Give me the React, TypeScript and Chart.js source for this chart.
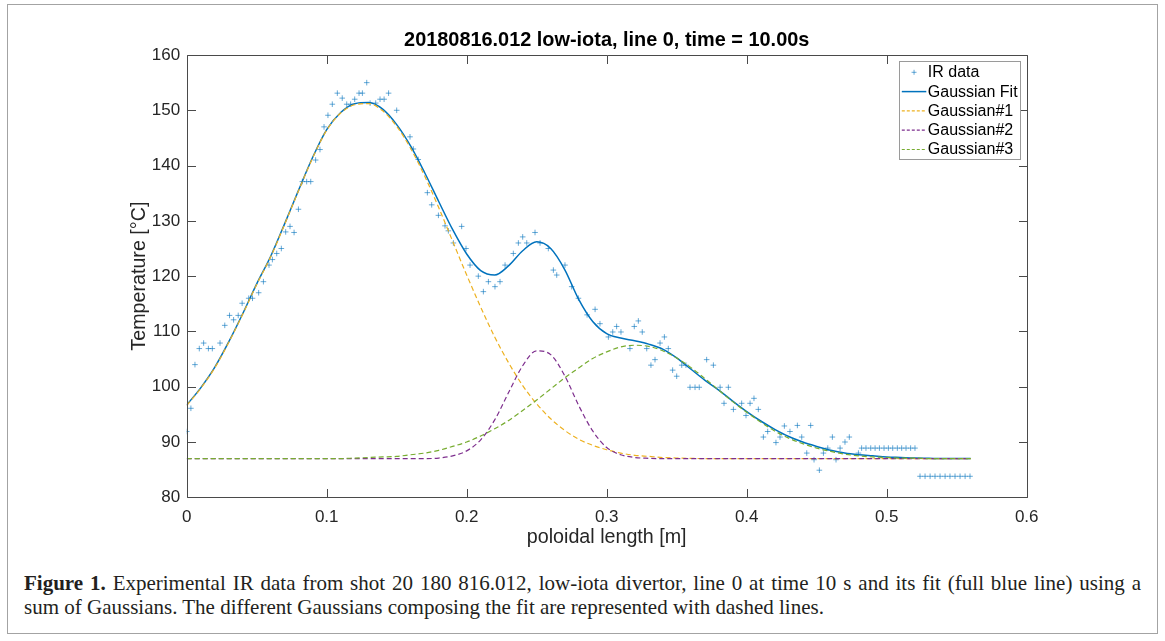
import React, { useEffect, useRef } from "react";
import { Chart, registerables } from "chart.js";

Chart.register(...registerables);

// ---------- texts ----------
const TITLE = "20180816.012 low-iota, line 0, time = 10.00s";
const X_LABEL = "poloidal length [m]";
const Y_LABEL = "Temperature [°C]";
const X_TICKS = [0, 0.1, 0.2, 0.3, 0.4, 0.5, 0.6];
const Y_TICKS = [80, 90, 100, 110, 120, 130, 140, 150, 160];
const SERIES_NAMES = ["IR data", "Gaussian Fit", "Gaussian#1", "Gaussian#2", "Gaussian#3"];

// ---------- IR measurements ----------
const IR_X = [
  0.0, 0.003, 0.0059, 0.009, 0.0121, 0.0155, 0.0183, 0.0238, 0.0272, 0.0306,
  0.0335, 0.0368, 0.0396, 0.0443, 0.047, 0.0514, 0.0548, 0.0588, 0.0612, 0.0643,
  0.0676, 0.0707, 0.0738, 0.0767, 0.0798, 0.0826, 0.0857, 0.0886, 0.0921, 0.0952,
  0.0981, 0.1009, 0.104, 0.1076, 0.1111, 0.1143, 0.1171, 0.12, 0.1231, 0.1255,
  0.1286, 0.131, 0.135, 0.1381, 0.141, 0.1442, 0.15, 0.1595, 0.1619, 0.1654,
  0.1719, 0.175, 0.1798, 0.1845, 0.1869, 0.1905, 0.1964, 0.1995, 0.2024, 0.2083,
  0.2119, 0.2155, 0.2202, 0.2238, 0.2274, 0.2333, 0.2369, 0.24, 0.2429, 0.2488,
  0.2524, 0.2583, 0.2619, 0.2643, 0.2702, 0.275, 0.2798, 0.286, 0.2917, 0.2952,
  0.3012, 0.3043, 0.3071, 0.3102, 0.3166, 0.3197, 0.3226, 0.3254, 0.3286, 0.3316,
  0.3345, 0.3381, 0.3412, 0.344, 0.3471, 0.35, 0.3536, 0.3566, 0.3595, 0.3631,
  0.3661, 0.3714, 0.3762, 0.381, 0.3838, 0.3869, 0.3905, 0.3964, 0.3995, 0.4024,
  0.4052, 0.4083, 0.4119, 0.415, 0.4209, 0.4238, 0.4269, 0.4309, 0.4362, 0.4393,
  0.4429, 0.4457, 0.4481, 0.4519, 0.4548, 0.4579, 0.4612, 0.4638, 0.4667, 0.4702,
  0.4733, 0.4798, 0.4821,
  0.4852, 0.4886, 0.4917, 0.4948, 0.4981, 0.5012, 0.5043, 0.5076, 0.5107, 0.5138, 0.5171, 0.5202,
  0.5238, 0.5274, 0.531, 0.5345, 0.5381, 0.5417, 0.5452, 0.5488, 0.5524, 0.556, 0.5595,
];
const IR_Y = [
  91.9, 96.1, 104.0, 106.9, 107.9, 106.9, 106.9, 107.9, 111.1, 112.9,
  112.1, 112.9, 115.1, 116.0, 116.0, 117.0, 119.0, 122.0, 123.0, 124.1,
  125.0, 128.0, 129.0, 127.9, 132.1, 137.1, 137.1, 137.1, 141.0, 142.9,
  147.0, 149.1, 151.1, 153.1, 152.2, 151.1, 151.1, 152.0, 153.1, 153.1,
  155.0, 151.3, 151.3, 152.0, 152.0, 153.1, 150.0, 145.2, 143.0, 141.1,
  135.1, 132.9, 131.0, 129.1, 128.2, 126.0, 129.0, 125.0, 122.0, 120.0,
  117.2, 119.0, 118.1, 119.0, 122.0, 124.1, 126.0, 127.1, 126.0, 127.9,
  126.0, 125.0, 121.1, 120.2, 122.0, 118.1, 116.0, 113.0, 114.0, 111.4,
  109.0, 109.9, 110.9, 109.9, 106.9, 110.9, 111.9, 109.9, 106.9, 103.9,
  104.9, 107.9, 109.0, 106.9, 103.0, 101.9, 103.9, 103.9, 99.9, 99.9,
  99.9, 104.9, 103.9, 99.9, 97.0, 99.9, 95.9, 97.0, 94.8, 97.0,
  97.9, 95.9, 90.9, 91.9, 89.9, 90.9, 92.9, 91.9, 93.0, 90.9,
  88.0, 93.0, 86.8, 84.9, 88.0, 88.9, 90.9, 86.8, 88.9, 90.0,
  90.9, 88.0, 88.9,
  88.9, 88.9, 88.9, 88.9, 88.9, 88.9, 88.9, 88.9, 88.9, 88.9, 88.9, 88.9,
  83.8, 83.8, 83.8, 83.8, 83.8, 83.8, 83.8, 83.8, 83.8, 83.8, 83.8,
];

// ---------- fitted curves (sampled positions) ----------
const CURVE_X = [
  0.0, 0.01, 0.02, 0.03, 0.04, 0.05, 0.06, 0.07, 0.08, 0.09,
  0.1, 0.11, 0.12, 0.13, 0.14, 0.15, 0.16, 0.17, 0.18, 0.19,
  0.2, 0.21, 0.22, 0.23, 0.24, 0.25, 0.26, 0.27, 0.28, 0.29,
  0.3, 0.31, 0.32, 0.33, 0.34, 0.35, 0.36, 0.37, 0.38, 0.39,
  0.4, 0.41, 0.42, 0.43, 0.44, 0.45, 0.46, 0.47, 0.48, 0.49,
  0.5, 0.51, 0.52, 0.53, 0.54, 0.55, 0.56,
];
const FIT_Y = [
  96.7, 99.8, 103.5, 108.1, 113.2, 118.6, 123.6, 129.5, 135.6, 141.5,
  146.5, 149.6, 151.2, 151.4, 150.2, 147.4, 143.5, 138.7, 133.5, 128.4,
  124.0, 121.0, 120.2, 121.9, 124.6, 126.2, 125.0, 121.2, 115.8, 111.8,
  109.6, 108.8, 108.3, 107.7, 106.8, 105.2, 103.2, 101.2, 99.4, 97.4,
  95.5, 93.8, 92.3, 91.0, 90.0, 89.2, 88.5, 88.0, 87.7, 87.5,
  87.3, 87.2, 87.1, 87.05, 87.0, 87.0, 87.0,
];
const G1_Y = [
  96.6, 99.7, 103.4, 108.0, 113.1, 118.5, 123.5, 129.4, 135.5, 141.4,
  146.4, 149.5, 151.0, 151.2, 149.9, 147.1, 143.1, 138.1, 132.4, 126.3,
  120.2, 114.4, 109.0, 104.3, 100.2, 96.9, 94.2, 92.1, 90.5, 89.4,
  88.6, 88.0, 87.6, 87.4, 87.2, 87.1, 87.05, 87.0, 87.0, 87.0,
  87.0, 87.0, 87.0, 87.0, 87.0, 87.0, 87.0, 87.0, 87.0, 87.0,
  87.0, 87.0, 87.0, 87.0, 87.0, 87.0, 87.0,
];
const G2_Y = [
  87.0, 87.0, 87.0, 87.0, 87.0, 87.0, 87.0, 87.0, 87.0, 87.0,
  87.0, 87.0, 87.0, 87.0, 87.0, 87.0, 87.0, 87.0, 87.1, 87.5,
  88.4, 90.4, 94.0, 99.0, 103.8, 106.5, 105.8, 102.0, 96.6, 92.0,
  89.0, 87.7, 87.2, 87.05, 87.0, 87.0, 87.0, 87.0, 87.0, 87.0,
  87.0, 87.0, 87.0, 87.0, 87.0, 87.0, 87.0, 87.0, 87.0, 87.0,
  87.0, 87.0, 87.0, 87.0, 87.0, 87.0, 87.0,
];
const G3_Y = [
  87.0, 87.0, 87.0, 87.0, 87.0, 87.0, 87.0, 87.0, 87.0, 87.0,
  87.0, 87.0, 87.1, 87.2, 87.3, 87.4, 87.7, 88.0, 88.5, 89.2,
  90.0, 91.1, 92.4, 93.9, 95.7, 97.6, 99.6, 101.6, 103.4, 105.1,
  106.3, 107.2, 107.5, 107.3, 106.5, 105.2, 103.5, 101.5, 99.4, 97.3,
  95.4, 93.6, 92.0, 90.7, 89.7, 88.9, 88.3, 87.8, 87.5, 87.3,
  87.2, 87.1, 87.1, 87.0, 87.0, 87.0, 87.0,
];

// ---------- styling ----------
const SANS = '"Liberation Sans", Helvetica, Arial, sans-serif';
const TEXT_COLOR = "#262626";
const BLUE = "#0072BD";
const MARKER = "rgba(0,114,189,0.6)";
const YELLOW = "#EDB120";
const PURPLE = "#7E2F8E";
const GREEN = "#77AC30";

const CANVAS_W = 1165;
const CANVAS_H = 560;
const AREA_LEFT = 186.7;
const AREA_RIGHT = 1026.7;
const AREA_TOP = 55;
const AREA_BOTTOM = 497.3;
const TITLE_SIZE = 19.9;
const TITLE_CENTER_Y = 41;
const AXIS_TITLE_SIZE = 19.7;
const X_TITLE_CENTER_Y = 538;
const Y_TITLE_CENTER_X = 140;
const TICK_SIZE = 17;
const TICK_LEN = 8.5;

const pts = (xs: number[], ys: number[]) => xs.map((x, i) => ({ x, y: ys[i] }));

const framePlugin = {
  id: "matlabFrame",
  afterDatasetsDraw(chart: any) {
    const { ctx, chartArea, scales } = chart;
    const { left, right, top, bottom } = chartArea;
    const xs = scales.x;
    const ys = scales.y;
    ctx.save();
    ctx.strokeStyle = "#4a4a4a";
    ctx.lineWidth = 1;
    ctx.beginPath();
    const L = Math.round(left) + 0.5;
    const R = Math.round(right) + 0.5;
    const T = Math.round(top) + 0.5;
    const B = Math.round(bottom) + 0.5;
    ctx.moveTo(L, T);
    ctx.lineTo(R, T);
    ctx.lineTo(R, B);
    ctx.lineTo(L, B);
    ctx.closePath();
    X_TICKS.forEach((v) => {
      const p = Math.round(xs.getPixelForValue(v)) + 0.5;
      ctx.moveTo(p, B);
      ctx.lineTo(p, B - TICK_LEN);
      ctx.moveTo(p, T);
      ctx.lineTo(p, T + TICK_LEN);
    });
    Y_TICKS.forEach((v) => {
      const p = Math.round(ys.getPixelForValue(v)) + 0.5;
      ctx.moveTo(L, p);
      ctx.lineTo(L + TICK_LEN, p);
      ctx.moveTo(R, p);
      ctx.lineTo(R - TICK_LEN, p);
    });
    ctx.stroke();
    ctx.restore();
  },
};

const legendPlugin = {
  id: "boxLegend",
  afterDraw(chart: any) {
    const { ctx, chartArea } = chart;
    const bw = 121;
    const bh = 97.5;
    const bx = chartArea.right - 127.4;
    const by = chartArea.top + 5.8;
    ctx.save();
    ctx.fillStyle = "#ffffff";
    ctx.fillRect(bx, by, bw, bh);
    ctx.strokeStyle = "#9a9a9a";
    ctx.lineWidth = 1;
    ctx.strokeRect(Math.round(bx) + 0.5, Math.round(by) + 0.5, Math.round(bw), Math.round(bh));
    ctx.font = `16px ${SANS}`;
    ctx.textBaseline = "middle";
    ctx.textAlign = "left";
    chart.data.datasets.forEach((ds: any, i: number) => {
      const cy = by + 11.5 + i * 19.3;
      const x0 = bx + 2.5;
      const x1 = bx + 27;
      if (ds.showLine === false) {
        const cx = (x0 + x1) / 2;
        ctx.strokeStyle = MARKER;
        ctx.lineWidth = 1;
        ctx.beginPath();
        ctx.moveTo(cx - 2.5, cy);
        ctx.lineTo(cx + 2.5, cy);
        ctx.moveTo(cx, cy - 2.5);
        ctx.lineTo(cx, cy + 2.5);
        ctx.stroke();
      } else {
        ctx.strokeStyle = ds.borderColor;
        ctx.lineWidth = ds.borderWidth;
        ctx.setLineDash(ds.borderDash && ds.borderDash.length ? [3, 2] : []);
        ctx.beginPath();
        ctx.moveTo(x0, cy);
        ctx.lineTo(x1, cy);
        ctx.stroke();
        ctx.setLineDash([]);
      }
      ctx.fillStyle = "#000";
      ctx.fillText(ds.label, bx + 28.5, cy + 0.5);
    });
    ctx.restore();
  },
};

export default function App() {
  const canvasRef = useRef<HTMLCanvasElement | null>(null);

  useEffect(() => {
    if (!canvasRef.current) return;
    const lineDs = (label: string, ys: number[], color: string, width: number, dash: number[], order: number) => ({
      type: "scatter" as const,
      label,
      data: pts(CURVE_X, ys),
      showLine: true,
      borderColor: color,
      backgroundColor: color,
      borderWidth: width,
      borderDash: dash,
      pointRadius: 0,
      pointHoverRadius: 0,
      cubicInterpolationMode: "monotone" as const,
      fill: false,
      order,
    });

    const chart = new Chart(canvasRef.current, {
      type: "scatter",
      data: {
        datasets: [
          {
            label: SERIES_NAMES[0],
            data: pts(IR_X, IR_Y),
            showLine: false,
            pointStyle: "cross",
            pointRadius: 2.8,
            pointBorderWidth: 1,
            pointBorderColor: MARKER,
            pointBackgroundColor: MARKER,
            order: 5,
          } as any,
          lineDs(SERIES_NAMES[1], FIT_Y, BLUE, 1.5, [], 4),
          lineDs(SERIES_NAMES[2], G1_Y, YELLOW, 1.2, [5, 3], 3),
          lineDs(SERIES_NAMES[3], G2_Y, PURPLE, 1.2, [5, 3], 2),
          lineDs(SERIES_NAMES[4], G3_Y, GREEN, 1.2, [5, 3], 1),
        ],
      },
      options: {
        responsive: false,
        animation: false,
        devicePixelRatio: 1,
        events: [],
        layout: {
          padding: { left: 0, top: 0, bottom: 0, right: CANVAS_W - AREA_RIGHT },
        },
        plugins: {
          legend: { display: false },
          tooltip: { enabled: false },
          title: {
            display: true,
            fullSize: false,
            text: TITLE,
            color: "#000",
            font: { family: SANS, size: TITLE_SIZE, weight: "bold", lineHeight: 1.2 },
            padding: {
              top: TITLE_CENTER_Y - TITLE_SIZE * 0.6,
              bottom: AREA_TOP - TITLE_CENTER_Y - TITLE_SIZE * 0.6,
            },
          },
        },
        scales: {
          x: {
            type: "linear",
            position: "bottom",
            min: 0,
            max: 0.6,
            grid: { display: false, drawTicks: false },
            border: { display: false },
            afterBuildTicks: (s: any) => {
              s.ticks = X_TICKS.map((v) => ({ value: v }));
            },
            afterFit: (s: any) => {
              s.height = CANVAS_H - AREA_BOTTOM;
            },
            ticks: {
              color: TEXT_COLOR,
              font: { family: SANS, size: TICK_SIZE },
              padding: 10,
              maxRotation: 0,
              autoSkip: false,
              callback: (v: any) => String(Math.round(Number(v) * 10) / 10),
            },
            title: {
              display: true,
              text: X_LABEL,
              color: TEXT_COLOR,
              font: { family: SANS, size: AXIS_TITLE_SIZE, lineHeight: 1.2 },
              padding: { top: 0, bottom: CANVAS_H - X_TITLE_CENTER_Y - AXIS_TITLE_SIZE * 0.6 },
            },
          },
          y: {
            type: "linear",
            position: "left",
            min: 80,
            max: 160,
            grid: { display: false, drawTicks: false },
            border: { display: false },
            afterBuildTicks: (s: any) => {
              s.ticks = Y_TICKS.map((v) => ({ value: v }));
            },
            afterFit: (s: any) => {
              s.width = AREA_LEFT;
            },
            ticks: {
              color: TEXT_COLOR,
              font: { family: SANS, size: TICK_SIZE },
              padding: 6.5,
              autoSkip: false,
              callback: (v: any) => String(v),
            },
            title: {
              display: true,
              text: Y_LABEL,
              color: TEXT_COLOR,
              font: { family: SANS, size: AXIS_TITLE_SIZE, lineHeight: 1.2 },
              padding: { top: Y_TITLE_CENTER_X - AXIS_TITLE_SIZE * 0.6, bottom: 0 },
            },
          },
        },
      } as any,
      plugins: [framePlugin, legendPlugin],
    });
    return () => chart.destroy();
  }, []);

  const captionFont: React.CSSProperties = {
    fontFamily: '"Liberation Serif", "Times New Roman", serif',
    fontSize: 21,
    lineHeight: "24px",
    color: "#231f20",
    whiteSpace: "nowrap",
  };

  return (
    <div
      style={{
        position: "absolute",
        left: 0,
        top: 0,
        width: 1165,
        height: 641,
        background: "#fff",
        overflow: "hidden",
      }}
    >
      <div
        style={{
          position: "absolute",
          left: 7,
          top: 4,
          width: 1151,
          height: 630,
          border: "1px solid #a3a3a3",
          boxSizing: "border-box",
        }}
      />
      <canvas
        ref={canvasRef}
        width={CANVAS_W}
        height={CANVAS_H}
        style={{ position: "absolute", left: 0, top: 0, width: CANVAS_W, height: CANVAS_H }}
      />
      <div style={{ position: "absolute", left: 24, top: 571, width: 1117 }}>
        <div style={{ ...captionFont, textAlign: "justify", textAlignLast: "justify", whiteSpace: "normal" }}>
          <b>Figure 1.</b> Experimental IR data from shot 20 180 816.012, low-iota divertor, line 0 at time 10 s and its fit
          (full blue line) using a
        </div>
        <div style={captionFont}>
          sum of Gaussians. The different Gaussians composing the fit are represented with dashed lines.
        </div>
      </div>
    </div>
  );
}
